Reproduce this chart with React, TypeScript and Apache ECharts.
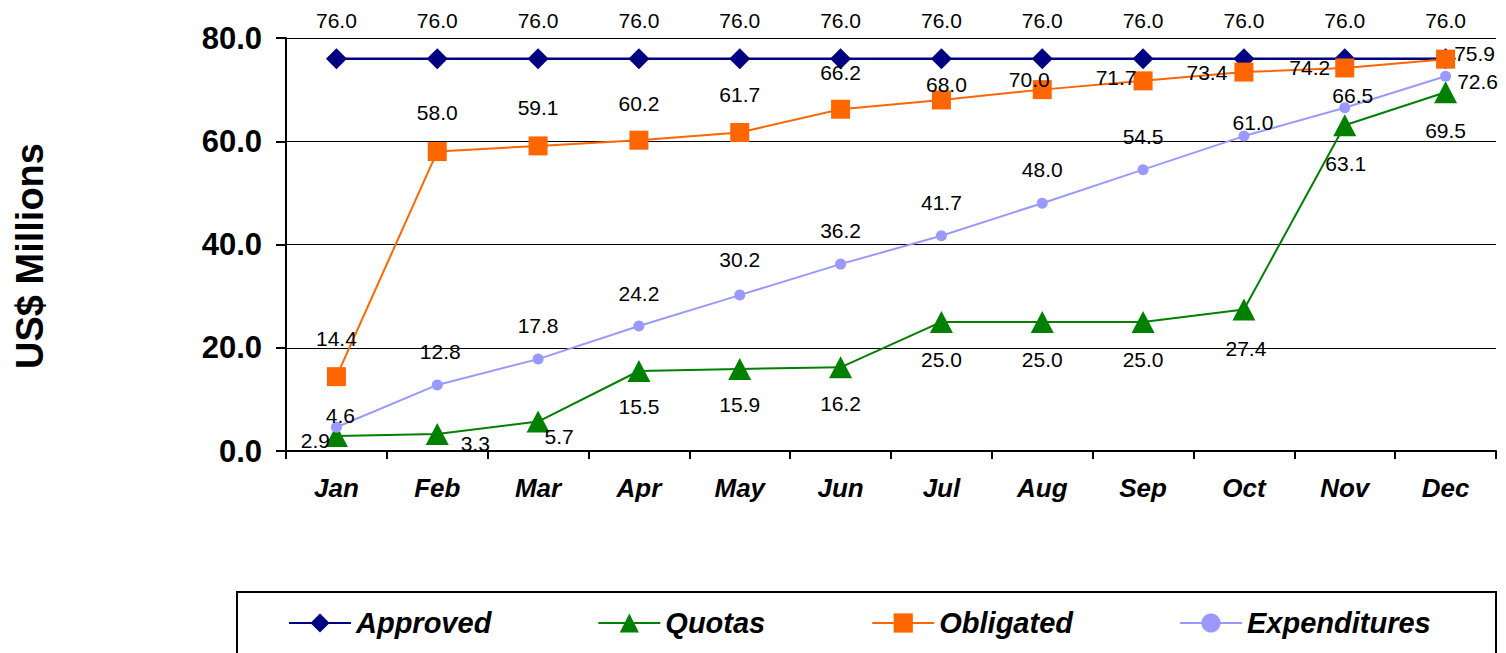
import React, { useEffect, useRef } from "react";
import * as echarts from "echarts";

const months = ["Jan", "Feb", "Mar", "Apr", "May", "Jun", "Jul", "Aug", "Sep", "Oct", "Nov", "Dec"];
const approved = [76.0, 76.0, 76.0, 76.0, 76.0, 76.0, 76.0, 76.0, 76.0, 76.0, 76.0, 76.0];
const quotas = [2.9, 3.3, 5.7, 15.5, 15.9, 16.2, 25.0, 25.0, 25.0, 27.4, 63.1, 69.5];
const obligated = [14.4, 58.0, 59.1, 60.2, 61.7, 66.2, 68.0, 70.0, 71.7, 73.4, 74.2, 75.9];
const expenditures = [4.6, 12.8, 17.8, 24.2, 30.2, 36.2, 41.7, 48.0, 54.5, 61.0, 66.5, 72.6];

// label placement (style only)
const approvedOffsets = months.map(() => [0, -38]);
const quotaOffsets = [[-21, 4], [38, 10], [21, 15], [0, 36], [0, 36], [0, 36], [0, 38], [0, 38], [0, 38], [2, 39], [1, 38], [0, 38]];
const obligatedOffsets = [[0, -38], [0, -39], [0, -38], [0, -37], [0, -38], [0, -37], [5, -15], [-13, -10], [-27, -3], [-37, 0], [-35, 0], [29, -6]];
const expOffsets = [[4, -12], [3, -33], [0, -34], [0, -33], [0, -36], [0, -34], [0, -33], [0, -34], [0, -33], [9, -14], [8, -12], [32, 5]];

const FONT = '"Liberation Sans", Arial, Helvetica, sans-serif';

function mkData(values: number[], offsets: number[][]) {
  return values.map((v, i) => ({ value: v, label: { offset: offsets[i] } }));
}

function mkSeries(name: string, values: number[], offsets: number[][], color: string, symbol: string, size: any, width: number) {
  return {
    name,
    type: "line",
    data: mkData(values, offsets),
    symbol,
    symbolSize: size,
    showAllSymbol: true,
    itemStyle: { color, opacity: 1 },
    lineStyle: { color, width },
    label: {
      show: true,
      position: "inside",
      color: "#000",
      fontSize: 21,
      fontFamily: FONT,
      formatter: (p: any) => Number(p.value).toFixed(1),
    },
    emphasis: { disabled: true },
  };
}

export default function App() {
  const ref = useRef<HTMLDivElement>(null);
  useEffect(() => {
    if (!ref.current) return;
    const chart = echarts.init(ref.current, undefined, { renderer: "svg" });
    chart.setOption({
      animation: false,
      backgroundColor: "#fff",
      grid: { left: 286, right: 10, top: 38, bottom: 202, containLabel: false },
      xAxis: {
        type: "category",
        data: months,
        boundaryGap: true,
        axisLine: { show: true, lineStyle: { color: "#000", width: 2 } },
        axisTick: { show: true, length: 8, interval: 0, lineStyle: { color: "#000", width: 2 } },
        axisLabel: {
          interval: 0,
          margin: 24,
          color: "#000",
          fontSize: 26,
          fontWeight: "bold",
          fontStyle: "italic",
          fontFamily: FONT,
        },
        splitLine: { show: false },
      },
      yAxis: {
        type: "value",
        min: 0,
        max: 80,
        interval: 20,
        axisLine: { show: true, lineStyle: { color: "#000", width: 2 } },
        axisTick: { show: true, length: 10, lineStyle: { color: "#000", width: 2 } },
        axisLabel: {
          margin: 24,
          color: "#000",
          fontSize: 31,
          fontWeight: "bold",
          fontFamily: FONT,
          formatter: (v: number) => v.toFixed(1),
        },
        splitLine: { show: true, lineStyle: { color: "#000", width: 1 } },
      },
      legend: {
        left: 288,
        top: 606,
        padding: 0,
        itemGap: 106,
        itemWidth: 62,
        itemHeight: 24,
        textStyle: {
          color: "#000",
          fontSize: 29,
          fontWeight: "bold",
          fontStyle: "italic",
          fontFamily: FONT,
          lineHeight: 34,
        },
        data: ["Approved", "Quotas", "Obligated", "Expenditures"],
      },
      graphic: [
        {
          type: "rect",
          shape: { x: 237, y: 592, width: 1259, height: 100 },
          style: { fill: "none", stroke: "#000", lineWidth: 2 },
          silent: true,
        },
        {
          type: "text",
          x: 30,
          y: 256,
          rotation: Math.PI / 2,
          style: {
            text: "US$ Millions",
            fill: "#000",
            fontSize: 38,
            fontWeight: "bold",
            fontFamily: FONT,
            align: "center",
            verticalAlign: "middle",
            textAlign: "center",
            textVerticalAlign: "middle",
          },
          silent: true,
        },
      ],
      series: [
        mkSeries("Approved", approved, approvedOffsets, "#000080", "diamond", 21, 2.5),
        mkSeries("Quotas", quotas, quotaOffsets, "#008000", "triangle", [23, 22], 2),
        mkSeries("Obligated", obligated, obligatedOffsets, "#FF6600", "rect", 19, 2),
        mkSeries("Expenditures", expenditures, expOffsets, "#9999FF", "circle", 11, 2),
      ],
    });
    return () => chart.dispose();
  }, []);
  return <div ref={ref} style={{ position: "fixed", left: 0, top: 0, width: 1506, height: 653 }} />;
}
